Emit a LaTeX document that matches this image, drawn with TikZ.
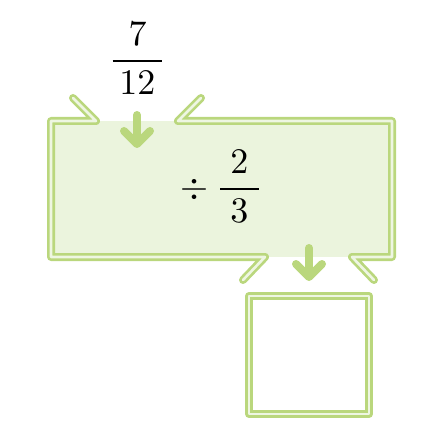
\documentclass[tikz,border=0pt]{standalone}
\usepackage{graphicx}
\usepackage{amsmath}
\definecolor{lgreen}{RGB}{186,215,125}
\definecolor{lstripe}{RGB}{238,246,226}
\definecolor{lfill}{RGB}{235,244,221}
\tikzset{
  dline/.style={draw=lstripe, line width=2.6pt, line cap=round, line join=round,
    preaction={draw=lgreen, line width=8pt, line cap=round, line join=round}},
  darrow/.style={draw=lgreen, line width=8pt, line cap=round, line join=round},
  bigtext/.style={inner sep=0pt, anchor=base}
}
\begin{document}
\begin{tikzpicture}[x=1pt,y=-1pt]
\useasboundingbox (0,0) rectangle (448,444);
% fill of big box
\fill[lfill] (51,121) rectangle (392,257);
% big box outline (two parts)
\coordinate (tl) at (73,98);
\coordinate (tr) at (201,98);
\coordinate (bl) at (243,280);
\coordinate (br) at (374,280);
\draw[dline] (tl) -- (96,121) -- (51,121) -- (51,257) -- (265,257) -- (bl);
\draw[dline] (br) -- (352,257) -- (392,257) -- (392,121) -- (178,121) -- (tr);
% answer box
\draw[dline] (249,296) rectangle (369,414);
% arrows
\draw[darrow] (137,115) -- (137,141);
\draw[darrow] (124,131) -- (137,144) -- (150,131);
\draw[darrow] (309,248) -- (309,274);
\draw[darrow] (296,264) -- (309,277) -- (322,264);
% texts
\node[bigtext] (a) at (137.5,70) {\scalebox{3.6}{$\dfrac{7}{\hspace{1.9pt}12\hspace{1.9pt}}$}};
\node[bigtext] (b) at (221.5,198) {\scalebox{3.6}{$\div\hspace{2.2pt}\dfrac{2}{\hspace{2.8pt}3\hspace{2.8pt}}$}};
\end{tikzpicture}
\end{document}
